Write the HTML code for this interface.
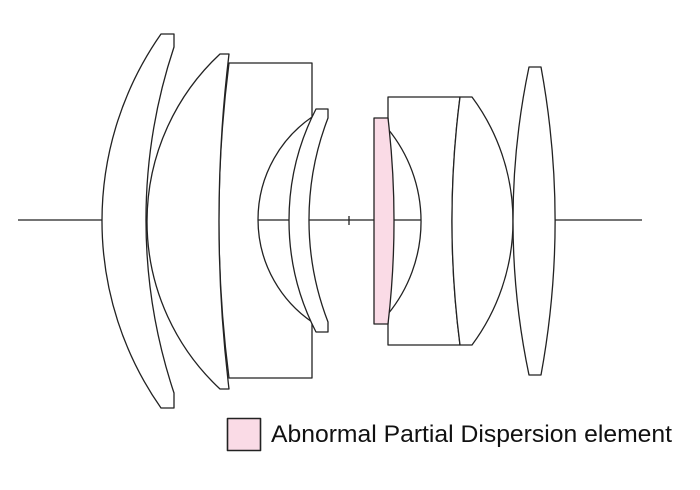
<!DOCTYPE html>
<html><head><style>
html,body{margin:0;padding:0;background:#fff;}
svg{display:block;}
</style></head><body>
<svg width="700" height="490" viewBox="0 0 700 490" xmlns="http://www.w3.org/2000/svg">
<g stroke="#222" stroke-width="1.3" fill="#fff" stroke-linejoin="round">
<line x1="18" y1="220" x2="642" y2="220"/>
<line x1="349" y1="216" x2="349" y2="225"/>
<path d="M161,34 L174,34 L174,47 A548 548 0 0 0 174,393 L174,408 L161,408 A325.8 325.8 0 0 1 161,34 Z"/>
<path d="M229,63 L312,63 L312,117 A124.3 124.3 0 0 0 312,322 L312,378 L229,378 A1241 1241 0 0 1 229,63 Z"/>
<path d="M220,54 L229,54 A1408 1408 0 0 0 229,389 L220,389 A228.7 228.7 0 0 1 220,54 Z"/>
<path d="M316,109 L328,109 L328,118 A283 283 0 0 0 328,322 L328,332 L316,332 A243.7 243.7 0 0 1 316,109 Z"/>
<path d="M388,97 L460,97 A965 965 0 0 0 460,345 L388,345 L388,314 A146 146 0 0 0 388,129 Z"/>
<path d="M460,97 L472,97 A208 208 0 0 1 472,345 L460,345 A965 965 0 0 1 460,97 Z"/>
<path d="M374,118 L388,118 A887 887 0 0 1 388,324 L374,324 Z" fill="#fadbe6"/>
<path d="M529,67 L541,67 A854 854 0 0 1 541,375 L529,375 A749 749 0 0 1 529,67 Z"/>
<rect x="227.5" y="418.5" width="33" height="32" fill="#fadbe6" stroke="#222" stroke-width="1.6"/>
</g>
<text x="271" y="442" font-family="Liberation Sans, Arial, sans-serif" font-size="24" fill="#111" textLength="401" lengthAdjust="spacingAndGlyphs">Abnormal Partial Dispersion element</text>
</svg>
</body></html>
